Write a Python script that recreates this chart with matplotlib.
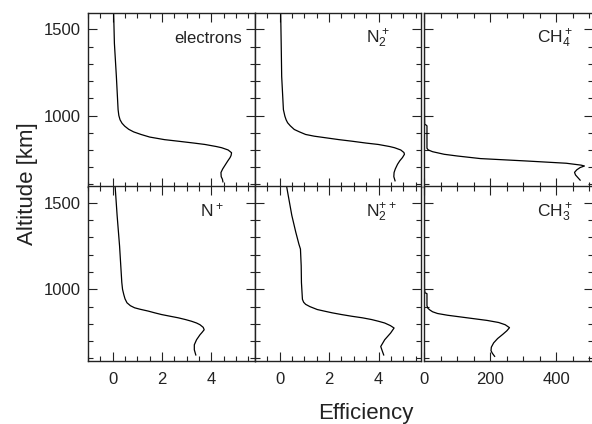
import numpy as np
from matplotlib import pyplot as plt
from matplotlib.ticker import MultipleLocator

# altitude [km] and efficiency
elec_alt = [1592, 1419, 1227, 1034, 1000, 975, 955, 938, 920, 905, 890, 875, 860, 851, 840, 832, 820, 813, 800,
            784, 768, 756, 735, 717, 690, 669, 645, 630, 615]
elec_eff = [0.04, 0.07, 0.15, 0.22, 0.25, 0.3, 0.38, 0.49, 0.65, 0.85, 1.15, 1.5, 2.1, 2.65, 3.3, 3.74, 4.2, 4.42, 4.68,
            4.82, 4.8, 4.76, 4.66, 4.58, 4.46, 4.39, 4.4, 4.45, 4.47]

n2p_alt = [1592, 1419, 1227, 1034, 996, 975, 958, 940, 919, 905, 890, 880, 871, 860, 851, 840, 832, 820, 813, 800,
           785, 775, 756, 737, 717, 690, 669, 645, 621]
n2p_eff = [0.04, 0.06, 0.08, 0.15, 0.21, 0.26, 0.32, 0.43, 0.59, 0.8, 1.05, 1.4, 1.85, 2.4, 2.92, 3.5, 3.99, 4.45, 4.65, 4.9,
           5.03, 5.05, 4.97, 4.86, 4.77, 4.68, 4.63, 4.62, 4.67]

ch4p_alt = [1592, 1200, 1000, 950, 945, 940, 810, 800, 790, 775, 765, 750, 736, 723, 712, 707, 698, 685, 670, 655, 640, 625]
ch4p_eff = [0.3, 0.3, 0.5, 1, 5, 8, 8, 12, 25, 60, 100, 170, 310, 430, 475, 485, 472, 462, 455, 458, 465, 472]

np_alt = [1595, 1428, 1250, 1040, 1000, 970, 945, 922, 905, 893, 885, 874, 864, 854, 845, 835, 825, 815, 805, 795,
          780, 766, 750, 737, 708, 679, 650, 620]
np_eff = [0.1, 0.18, 0.28, 0.37, 0.4, 0.45, 0.5, 0.58, 0.72, 0.89, 1.1, 1.44, 1.7, 1.98, 2.3, 2.66, 2.95, 3.2, 3.4, 3.54,
          3.67, 3.71, 3.62, 3.54, 3.4, 3.31, 3.31, 3.37]

n2pp_alt = [1595, 1428, 1331, 1260, 1233, 1136, 1039, 942, 925, 913, 900, 883, 874, 864, 854, 844, 835, 825, 815, 805,
            790, 776, 747, 708, 669, 640, 620]
n2pp_eff = [0.28, 0.49, 0.65, 0.78, 0.84, 0.87, 0.88, 0.92, 0.97, 1.05, 1.22, 1.52, 1.8, 2.12, 2.5, 2.92, 3.35, 3.72, 4.0, 4.25,
            4.48, 4.63, 4.49, 4.25, 4.09, 4.16, 4.21]

ch3p_alt = [1595, 1200, 1000, 980, 975, 905, 890, 880, 870, 860, 850, 840, 830, 820, 808, 795, 778, 760, 740, 715, 690,
            665, 645, 630, 612]
ch3p_eff = [0.3, 0.3, 0.5, 2, 8, 8, 11, 17, 25, 40, 70, 110, 150, 190, 225, 245, 258, 250, 238, 222, 210,
            203, 202, 206, 213]

labels = ["electrons", r"N$_2^+$", r"CH$_4^+$", r"N$^+$", r"N$_2^{++}$", r"CH$_3^+$"]
x_ticks = [[0, 2, 4], [0, 2, 4], [0, 200, 400]]


def main():
    plt.rcParams["font.family"] = ["Liberation Sans", "DejaVu Sans"]
    plt.rcParams["mathtext.default"] = "regular"
    ink = "#222222"

    fig = plt.figure(figsize=(5.92, 4.24), dpi=100)
    W, H = 592.0, 424.0
    cols = [(88, 255), (255, 421), (424, 593)]
    rows = [(13, 186.5), (186.5, 360.5)]
    xlims = [(-1, 5.77), (-1, 5.72), (-1, 511)]

    series = [(elec_eff, elec_alt), (n2p_eff, n2p_alt), (ch4p_eff, ch4p_alt),
              (np_eff, np_alt), (n2pp_eff, n2pp_alt), (ch3p_eff, ch3p_alt)]

    for r, (top, bot) in enumerate(rows):
        for c, (x0, x1) in enumerate(cols):
            k = 3 * r + c
            ax = fig.add_axes([x0 / W, 1 - bot / H, (x1 - x0) / W, (bot - top) / H])
            x, y = series[k]
            ax.plot(x, y, color="black", lw=0.9)

            ax.set_ylim(588, 1595)
            ax.set_xlim(*xlims[c])
            ax.xaxis.set_minor_locator(MultipleLocator(50 if c == 2 else 0.5))
            ax.set_xticks(x_ticks[c])
            ax.set_yticks([1000, 1500])
            ax.yaxis.set_minor_locator(MultipleLocator(100))

            ax.tick_params(which="both", direction="in", top=True, right=True,
                           color=ink, labelcolor=ink, labelsize=12, width=0.8)
            ax.tick_params(which="major", length=6.5)
            ax.tick_params(which="minor", length=3.5)
            ax.tick_params(axis="x", pad=8)
            ax.tick_params(axis="y", pad=5)
            if c != 0:
                ax.tick_params(labelleft=False)
            if r == 0:
                ax.tick_params(labelbottom=False)
            for sp in ax.spines.values():
                sp.set_color(ink)
                sp.set_linewidth(1.0)

            if k == 0:
                ax.text(0.92, 0.827, labels[k], transform=ax.transAxes,
                        ha="right", va="baseline", fontsize=12, color=ink)
            else:
                ax.text(0.67, 0.827, labels[k], transform=ax.transAxes,
                        ha="left", va="baseline", fontsize=12.5, color=ink)

    fig.text(27 / W, 1 - 184 / H, "Altitude [km]", rotation=90, ha="center",
             va="center", fontsize=16, color=ink)
    fig.text(366 / W, 1 - 419 / H, "Efficiency", ha="center", va="baseline",
             fontsize=16, color=ink)

    fig.savefig("out.png", dpi=100)


if __name__ == "__main__":
    main()
